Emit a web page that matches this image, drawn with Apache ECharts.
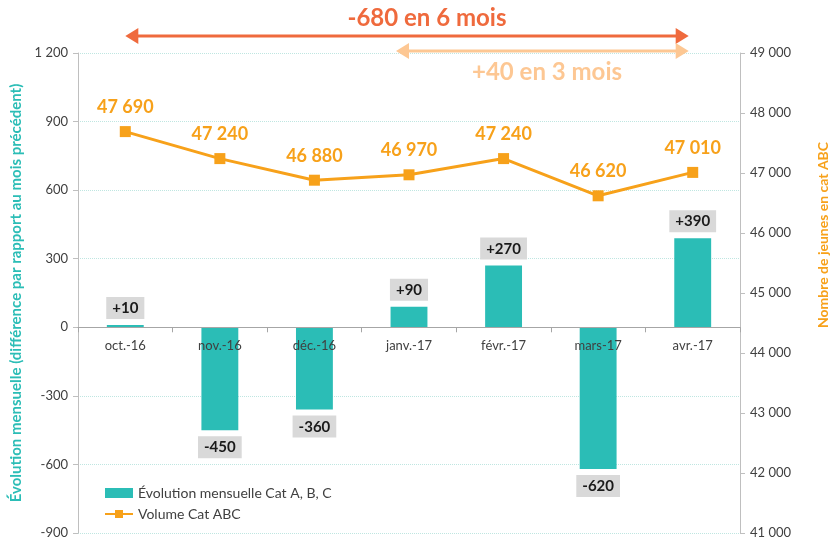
<!DOCTYPE html>
<html>
<head>
<meta charset="utf-8">
<script src="https://cdn.jsdelivr.net/npm/echarts@6/dist/echarts.min.js"></script>
<style>
  html, body { margin: 0; padding: 0; background: #fff; }
  #chart { width: 836px; height: 542px; }
</style>
</head>
<body>
<div id="chart"></div>
<script>
const months = ['oct.-16', 'nov.-16', 'déc.-16', 'janv.-17', 'févr.-17', 'mars-17', 'avr.-17'];
const evolution = [10, -450, -360, 90, 270, -620, 390];
const volume = [47690, 47240, 46880, 46970, 47240, 46620, 47010];
const leftRange = [-900, 1200, 300];
const rightRange = [41000, 49000, 1000];

const FONT = 'Lato, "Open Sans", sans-serif';
const TEAL = '#2bbdb6';
const ORANGE = '#f7a11a';

const fmt = (v) => {
  const s = String(Math.abs(v)).replace(/\B(?=(\d{3})+(?!\d))/g, ' ');
  return v < 0 ? '-' + s : s;
};

const gridTop = 53;
const gridBottom = 9;
const plotH = 542 - gridTop - gridBottom;
// move the category axis up so it sits on the zero line of the left axis
const zeroOffset = -plotH * (0 - leftRange[0]) / (leftRange[1] - leftRange[0]);

const chart = echarts.init(document.getElementById('chart'));

const option = {
  animation: false,
  textStyle: { fontFamily: FONT },
  grid: { left: 78, right: 96, top: gridTop, bottom: gridBottom, containLabel: false, outerBoundsMode: 'none' },
  legend: {
    orient: 'vertical',
    left: 99,
    top: 481,
    itemGap: 7,
    itemWidth: 28,
    itemHeight: 10,
    textStyle: { fontFamily: FONT, fontSize: 14, color: '#404040' },
    data: [
      { name: 'Évolution mensuelle Cat A, B, C', icon: 'rect' },
      { name: 'Volume Cat ABC' }
    ]
  },
  xAxis: {
    type: 'category',
    data: months,
    position: 'bottom',
    offset: zeroOffset,
    axisLine: { onZero: false, lineStyle: { color: '#a6a6a6' } },
    axisTick: { show: true, alignWithLabel: false, length: 5, lineStyle: { color: '#a6a6a6' } },
    axisLabel: { color: '#404040', fontSize: 13, margin: 12 },
    splitLine: { show: false },
    z: 5
  },
  yAxis: [
    {
      type: 'value',
      min: leftRange[0],
      max: leftRange[1],
      interval: leftRange[2],
      position: 'left',
      name: 'Évolution mensuelle (différence par rapport au mois précédent)',
      nameLocation: 'middle',
      nameRotate: 90,
      nameGap: 52,
      nameTextStyle: { color: TEAL, fontWeight: 'bold', fontSize: 15, fontFamily: FONT },
      axisLine: { show: true, lineStyle: { color: '#bfbfbf' } },
      axisTick: { show: true, length: 5, lineStyle: { color: '#bfbfbf' } },
      axisLabel: { color: '#404040', fontSize: 13, margin: 10, formatter: fmt },
      splitLine: { show: true, lineStyle: { color: '#bfe6e1', type: 'dotted', width: 1 } }
    },
    {
      type: 'value',
      min: rightRange[0],
      max: rightRange[1],
      interval: rightRange[2],
      position: 'right',
      name: 'Nombre de jeunes en cat ABC',
      nameLocation: 'middle',
      nameRotate: 90,
      nameGap: 76,
      nameTextStyle: { color: ORANGE, fontWeight: 'bold', fontSize: 14, fontFamily: FONT, padding: [0, 0, 0, 116] },
      axisLine: { show: true, lineStyle: { color: '#bfbfbf' } },
      axisTick: { show: true, length: 5, lineStyle: { color: '#bfbfbf' } },
      axisLabel: { color: '#404040', fontSize: 13, margin: 10, formatter: fmt },
      splitLine: { show: false }
    }
  ],
  series: [
    {
      name: 'Évolution mensuelle Cat A, B, C',
      type: 'bar',
      yAxisIndex: 0,
      barWidth: '39%',
      barMinHeight: 2,
      data: evolution.map((v) => ({
        value: v,
        label: { position: v >= 0 ? 'top' : 'bottom' }
      })),
      itemStyle: { color: TEAL },
      label: {
        show: true,
        distance: 6,
        formatter: (p) => (p.value > 0 ? '+' : '') + fmt(p.value),
        color: '#1a1a1a',
        fontWeight: 'bold',
        fontSize: 15,
        fontFamily: FONT,
        backgroundColor: '#d9d9d9',
        padding: [4, 6, 3, 6]
      },
      z: 2
    },
    {
      name: 'Volume Cat ABC',
      type: 'line',
      yAxisIndex: 1,
      data: volume,
      symbol: 'rect',
      symbolSize: 11,
      lineStyle: { color: ORANGE, width: 3 },
      itemStyle: { color: ORANGE },
      label: {
        show: true,
        position: 'top',
        distance: 10,
        formatter: (p) => fmt(p.value),
        color: ORANGE,
        fontSize: 18,
        fontWeight: 'bold',
        fontFamily: FONT
      },
      z: 3
    }
  ]
};

chart.setOption(option);

// annotation arrows above the plot, anchored to category positions
const xOf = (i) => chart.convertToPixel({ xAxisIndex: 0 }, i);
const arrow = (x1, x2, y, color, w) => [
  { type: 'line', shape: { x1: x1 + 10, y1: y, x2: x2 - 10, y2: y }, style: { stroke: color, lineWidth: w } },
  { type: 'polygon', shape: { points: [[x1, y], [x1 + 13, y - 8], [x1 + 13, y + 8]] }, style: { fill: color } },
  { type: 'polygon', shape: { points: [[x2, y], [x2 - 13, y - 8], [x2 - 13, y + 8]] }, style: { fill: color } }
];
const dark = '#ef6a3d';
const light = '#fdc793';
const x0 = xOf(0), x3 = xOf(3), x6 = xOf(6);
chart.setOption({
  graphic: [
    ...arrow(x0, x6 - 4, 36, dark, 3),
    ...arrow(x3 - 13, x6 - 4, 51, light, 3),
    {
      type: 'text',
      x: 427,
      y: 18,
      style: { text: '-680 en 6 mois', fill: dark, font: 'bold 24px ' + FONT, align: 'center', verticalAlign: 'middle' }
    },
    {
      type: 'text',
      x: 547,
      y: 72,
      style: { text: '+40 en 3 mois', fill: light, font: 'bold 24px ' + FONT, align: 'center', verticalAlign: 'middle' }
    }
  ]
});

window.addEventListener('resize', () => chart.resize());
</script>
</body>
</html>
